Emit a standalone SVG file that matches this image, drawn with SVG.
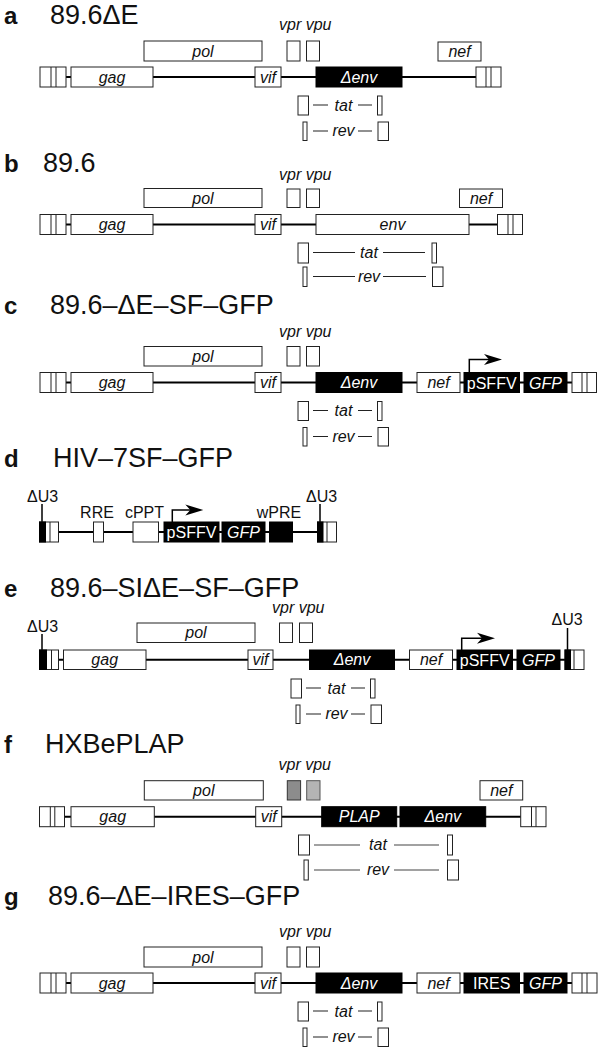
<svg xmlns="http://www.w3.org/2000/svg" width="600" height="1049" viewBox="0 0 600 1049">
<defs>
<style>
text{font-family:"Liberation Sans",Arial,Helvetica,sans-serif;fill:#111}
.t{font-size:27px}
.L{font-size:24px;font-weight:bold}
.g{font-size:16px;font-style:italic;text-anchor:middle}
.v{font-size:16px;font-style:italic}
.r{font-size:16px;text-anchor:middle}
.u{font-size:16px}
text.w{fill:#fff}
.bx{fill:#fff;stroke:#222;stroke-width:1}
.bk{fill:#000;stroke:#000;stroke-width:1}
.bb{stroke:#000;stroke-width:2;fill:none}
.d{stroke:#222;stroke-width:1.2;fill:none}
.dg{stroke:#444;stroke-width:1.2;fill:none}
.ln{stroke:#222;stroke-width:1;fill:none}
.pr{stroke:#000;stroke-width:1.5;fill:none}
</style>
<path id="ah" d="M0,0 L-18,-5.5 L-13,0 L-18,5.5 Z" fill="#000"/>
</defs>
<rect width="600" height="1049" fill="#fff"/>

<g id="connectors">
<path class="bb" d="M66,77 H476"/>
<path class="bb" d="M66,224.5 H497"/>
<path class="bb" d="M66,382.5 H572"/>
<path class="bb" d="M58,532 H317"/>
<path class="bb" d="M58,659.8 H565"/>
<path class="bb" d="M65,816.8 H521"/>
<path class="bb" d="M66,983 H572"/>
<path class="pr" d="M469.3,372.5 V359.5 H492"/>
<use href="#ah" x="502" y="359.5"/>
<path class="pr" d="M172.3,522 V510 H194"/>
<use href="#ah" x="203.3" y="510"/>
<path class="pr" d="M461.7,650 V638.3 H485"/>
<use href="#ah" x="495" y="638.3"/>
<path class="pr" d="M42,504 V522 M320,504 V522 M42,634 V650 M567.5,628 V650"/>
<path class="d" d="M313,105 H328 M358,105 H372 M313,131 H328 M358,131 H372"/>
<path class="d" d="M313,252.5 H355 M383,252.5 H425 M313,276.5 H355 M383,276.5 H426"/>
<path class="d" transform="translate(0,305.5)" d="M313,105 H328 M358,105 H372 M313,131 H328 M358,131 H372"/>
<path class="d" transform="translate(-7,583)" d="M313,105 H328 M358,105 H372 M313,131 H328 M358,131 H372"/>
<path class="dg" d="M314,845 H360 M394,845 H439 M314,870 H360 M394,870 H439"/>
<path class="d" transform="translate(0,906)" d="M313,105 H328 M358,105 H372 M313,131 H328 M358,131 H372"/>
</g>

<!-- Panel a -->
<g id="panel-a">
<text class="L" x="4" y="24">a</text>
<text class="t" x="50" y="24">89.6ΔE</text>
<text class="v" x="279" y="30">vpr vpu</text>
<g id="a-ltr5"><rect class="bx" x="40" y="67" width="26" height="20"/><path class="ln" d="M51,67 V87 M56,67 V87"/></g>
<g id="a-gag"><rect class="bx" x="71" y="67" width="82" height="20"/><text class="g" x="112" y="82.5">gag</text></g>
<g id="a-pol"><rect class="bx" x="144" y="41" width="118" height="20"/><text class="g" x="203" y="56.5">pol</text></g>
<g id="a-vif"><rect class="bx" x="255" y="67" width="26" height="20"/><text class="g" x="268" y="82.5">vif</text></g>
<g id="a-vpr"><rect class="bx" x="287" y="41" width="13" height="20"/></g>
<g id="a-vpu"><rect class="bx" x="306.5" y="41" width="13" height="20"/></g>
<g id="a-env"><rect class="bk" x="316" y="67" width="86" height="20"/><text class="g w" x="359" y="82.5">Δenv</text></g>
<g id="a-nef"><rect class="bx" x="438" y="42" width="43" height="19"/><text class="g" x="459.5" y="56.5">nef</text></g>
<g id="a-ltr3"><rect class="bx" x="476" y="67" width="25" height="20"/><path class="ln" d="M486,67 V87 M491,67 V87"/></g>
<g id="a-tat"><rect class="bx" x="298" y="96" width="10.5" height="19"/><rect class="bx" x="377.5" y="96" width="4.5" height="19"/><text class="g" x="343.5" y="110.5">tat</text></g>
<g id="a-rev"><rect class="bx" x="303" y="122" width="4" height="18.5"/><rect class="bx" x="378" y="122" width="10.5" height="18.5"/><text class="g" x="343.5" y="136">rev</text></g>
</g>

<!-- Panel b -->
<g id="panel-b">
<text class="L" x="4" y="171.5">b</text>
<text class="t" x="43" y="171.5">89.6</text>
<text class="v" x="279" y="180">vpr vpu</text>
<g id="b-ltr5"><rect class="bx" x="40" y="214.5" width="26" height="20"/><path class="ln" d="M51,214.5 V234.5 M56,214.5 V234.5"/></g>
<g id="b-gag"><rect class="bx" x="71" y="214.5" width="82" height="20"/><text class="g" x="112" y="230">gag</text></g>
<g id="b-pol"><rect class="bx" x="144" y="188.5" width="118" height="19"/><text class="g" x="203" y="203.5">pol</text></g>
<g id="b-vif"><rect class="bx" x="255" y="214.5" width="26" height="20"/><text class="g" x="268" y="230">vif</text></g>
<g id="b-vpr"><rect class="bx" x="287" y="189" width="13" height="18.5"/></g>
<g id="b-vpu"><rect class="bx" x="306.5" y="189" width="13" height="18.5"/></g>
<g id="b-env"><rect class="bx" x="316" y="214.5" width="153" height="20"/><text class="g" x="392.5" y="230">env</text></g>
<g id="b-nef"><rect class="bx" x="459.5" y="189" width="43" height="18.5"/><text class="g" x="481" y="203.5">nef</text></g>
<g id="b-ltr3"><rect class="bx" x="497.5" y="214.5" width="25" height="20"/><path class="ln" d="M508,214.5 V234.5 M513,214.5 V234.5"/></g>
<g id="b-tat"><rect class="bx" x="298" y="243" width="10.5" height="20"/><rect class="bx" x="432" y="243" width="4.5" height="20"/><text class="g" x="369" y="258">tat</text></g>
<g id="b-rev"><rect class="bx" x="303" y="267" width="4" height="19.5"/><rect class="bx" x="432.5" y="267" width="10.5" height="19.5"/><text class="g" x="369" y="282">rev</text></g>
</g>

<!-- Panel c -->
<g id="panel-c">
<text class="L" x="4" y="314">c</text>
<text class="t" x="50" y="314">89.6–ΔE–SF–GFP</text>
<text class="v" x="279" y="336.5">vpr vpu</text>
<g id="c-ltr5"><rect class="bx" x="40" y="372.5" width="26" height="20"/><path class="ln" d="M51,372.5 V392.5 M56,372.5 V392.5"/></g>
<g id="c-gag"><rect class="bx" x="71" y="372.5" width="82" height="20"/><text class="g" x="112" y="388">gag</text></g>
<g id="c-pol"><rect class="bx" x="144" y="346.5" width="118" height="19.5"/><text class="g" x="203" y="362">pol</text></g>
<g id="c-vif"><rect class="bx" x="255" y="372.5" width="26" height="20"/><text class="g" x="268" y="388">vif</text></g>
<g id="c-vpr"><rect class="bx" x="287" y="346.5" width="13" height="19.5"/></g>
<g id="c-vpu"><rect class="bx" x="306.5" y="346.5" width="13" height="19.5"/></g>
<g id="c-env"><rect class="bk" x="316" y="372.5" width="86" height="20"/><text class="g w" x="359" y="388">Δenv</text></g>
<g id="c-nef"><rect class="bx" x="417" y="372.5" width="43" height="20"/><text class="g" x="438.5" y="388">nef</text></g>
<g id="c-psffv"><rect class="bk" x="464" y="372.5" width="55.5" height="20"/><text class="r w" x="491.7" y="388.5">pSFFV</text></g>
<g id="c-gfp"><rect class="bk" x="524" y="372.5" width="43" height="20"/><text class="g w" x="545.5" y="388.5">GFP</text></g>
<g id="c-ltr3"><rect class="bx" x="572" y="372.5" width="24.5" height="20"/><path class="ln" d="M582,372.5 V392.5 M587,372.5 V392.5"/></g>
<g id="c-tat" transform="translate(0,305.5)"><rect class="bx" x="298" y="96" width="10.5" height="19"/><rect class="bx" x="377.5" y="96" width="4.5" height="19"/><text class="g" x="343.5" y="110.5">tat</text></g>
<g id="c-rev" transform="translate(0,305.5)"><rect class="bx" x="303" y="122" width="4" height="18.5"/><rect class="bx" x="378" y="122" width="10.5" height="18.5"/><text class="g" x="343.5" y="136">rev</text></g>
</g>

<!-- Panel d -->
<g id="panel-d">
<text class="L" x="4" y="466.5">d</text>
<text class="t" x="53" y="466.5">HIV–7SF–GFP</text>
<text class="u" x="27" y="501.5">ΔU3</text>
<text class="u" x="306" y="501.5">ΔU3</text>
<g id="d-ltr5"><rect class="bx" x="39.5" y="522" width="19" height="20"/><rect class="bk" x="39.5" y="522" width="6" height="20"/><path class="ln" d="M50,522 V542"/></g>
<g id="d-rre"><rect class="bx" x="93.5" y="522" width="10" height="20"/><text class="r" x="97" y="517.5">RRE</text></g>
<g id="d-cppt"><rect class="bx" x="133" y="522" width="25.5" height="20"/><text class="r" x="144.5" y="517.5">cPPT</text></g>
<g id="d-psffv"><rect class="bk" x="164" y="522" width="55" height="20"/><text class="r w" x="191.5" y="538">pSFFV</text></g>
<g id="d-gfp"><rect class="bk" x="222" y="522" width="43" height="20"/><text class="g w" x="243.5" y="538">GFP</text></g>
<g id="d-wpre"><rect class="bk" x="269.5" y="522" width="23" height="20"/><text class="r" x="279" y="518">wPRE</text></g>
<g id="d-ltr3"><rect class="bx" x="317.5" y="522" width="19" height="20"/><rect class="bk" x="317.5" y="522" width="5.5" height="20"/><path class="ln" d="M327,522 V542"/></g>
</g>

<!-- Panel e -->
<g id="panel-e">
<text class="L" x="4" y="597">e</text>
<text class="t" x="50" y="597">89.6–SIΔE–SF–GFP</text>
<text class="v" x="272" y="612.5">vpr vpu</text>
<text class="u" x="27" y="631.5">ΔU3</text>
<text class="u" x="551.5" y="625">ΔU3</text>
<g id="e-ltr5"><rect class="bx" x="39.5" y="650" width="19" height="19.5"/><rect class="bk" x="39.5" y="650" width="7" height="19.5"/><path class="ln" d="M51.5,650 V669.5"/></g>
<g id="e-gag"><rect class="bx" x="63.5" y="650" width="82.5" height="19.5"/><text class="g" x="104.7" y="665.3">gag</text></g>
<g id="e-pol"><rect class="bx" x="137" y="623" width="118" height="19.5"/><text class="g" x="196" y="638.3">pol</text></g>
<g id="e-vif"><rect class="bx" x="248" y="650" width="25" height="19.5"/><text class="g" x="260.5" y="665.3">vif</text></g>
<g id="e-vpr"><rect class="bx" x="279.5" y="623" width="13" height="19.5"/></g>
<g id="e-vpu"><rect class="bx" x="299.5" y="623" width="13" height="19.5"/></g>
<g id="e-env"><rect class="bk" x="309.5" y="650" width="85" height="19.5"/><text class="g w" x="352" y="665.3">Δenv</text></g>
<g id="e-nef"><rect class="bx" x="409.5" y="650" width="43" height="19.5"/><text class="g" x="431" y="665.3">nef</text></g>
<g id="e-psffv"><rect class="bk" x="457" y="650" width="55.5" height="19.5"/><text class="r w" x="484.7" y="665.8">pSFFV</text></g>
<g id="e-gfp"><rect class="bk" x="517" y="650" width="43" height="19.5"/><text class="g w" x="538.5" y="665.8">GFP</text></g>
<g id="e-ltr3"><rect class="bx" x="565" y="650" width="19" height="19.5"/><rect class="bk" x="565" y="650" width="5.5" height="19.5"/><path class="ln" d="M574,650 V669.5"/></g>
<g id="e-tat" transform="translate(-7,583)"><rect class="bx" x="298" y="96" width="10.5" height="19"/><rect class="bx" x="377.5" y="96" width="4.5" height="19"/><text class="g" x="343.5" y="110.5">tat</text></g>
<g id="e-rev" transform="translate(-7,583)"><rect class="bx" x="303" y="122" width="4" height="18.5"/><rect class="bx" x="378" y="122" width="10.5" height="18.5"/><text class="g" x="343.5" y="136">rev</text></g>
</g>

<!-- Panel f -->
<g id="panel-f">
<text class="L" x="4" y="753.3">f</text>
<text class="t" x="45" y="753.3">HXBePLAP</text>
<text class="v" x="278.5" y="770">vpr vpu</text>
<g id="f-ltr5"><rect class="bx" x="39.5" y="806.7" width="25" height="20"/><path class="ln" d="M50.3,806.7 V826.7 M54.8,806.7 V826.7"/></g>
<g id="f-gag"><rect class="bx" x="71" y="806.7" width="83.3" height="20"/><text class="g" x="112.7" y="822.2">gag</text></g>
<g id="f-pol"><rect class="bx" x="144.3" y="780.7" width="119" height="19.3"/><text class="g" x="203.8" y="795.8">pol</text></g>
<g id="f-vif"><rect class="bx" x="255.7" y="806.7" width="26" height="20"/><text class="g" x="268.7" y="822.2">vif</text></g>
<g id="f-vpr"><rect x="287.3" y="780.7" width="13.3" height="19.3" fill="#8c8c8c" stroke="#333" stroke-width="1"/></g>
<g id="f-vpu"><rect x="306.7" y="780.7" width="13.3" height="19.3" fill="#b4b4b4" stroke="#555" stroke-width="1"/></g>
<g id="f-plap"><rect class="bk" x="321.7" y="806.7" width="75" height="20"/><text class="g w" x="359.2" y="822.2">PLAP</text></g>
<g id="f-env"><rect class="bk" x="400" y="806.7" width="85.7" height="20"/><text class="g w" x="442.8" y="822.2">Δenv</text></g>
<g id="f-nef"><rect class="bx" x="480" y="780.7" width="42.7" height="19.3"/><text class="g" x="501.3" y="795.8">nef</text></g>
<g id="f-ltr3"><rect class="bx" x="520.7" y="806.7" width="25.3" height="20"/><path class="ln" d="M531.5,806.7 V826.7 M536,806.7 V826.7"/></g>
<g id="f-tat"><rect class="bx" x="298.5" y="835" width="11" height="20"/><rect class="bx" x="447.5" y="835" width="5" height="20"/><text class="g" x="378" y="850">tat</text></g>
<g id="f-rev"><rect class="bx" x="304" y="860" width="4.3" height="20"/><rect class="bx" x="447.5" y="860" width="11" height="20"/><text class="g" x="378" y="875">rev</text></g>
</g>

<!-- Panel g -->
<g id="panel-g">
<text class="L" x="4" y="905">g</text>
<text class="t" x="48" y="905">89.6–ΔE–IRES–GFP</text>
<text class="v" x="279" y="937">vpr vpu</text>
<g id="g-ltr5"><rect class="bx" x="40" y="973" width="26" height="20"/><path class="ln" d="M51,973 V993 M56,973 V993"/></g>
<g id="g-gag"><rect class="bx" x="71" y="973" width="82" height="20"/><text class="g" x="112" y="988.5">gag</text></g>
<g id="g-pol"><rect class="bx" x="144" y="947" width="118" height="20"/><text class="g" x="203" y="962.5">pol</text></g>
<g id="g-vif"><rect class="bx" x="255" y="973" width="26" height="20"/><text class="g" x="268" y="988.5">vif</text></g>
<g id="g-vpr"><rect class="bx" x="287" y="947" width="13" height="20"/></g>
<g id="g-vpu"><rect class="bx" x="306.5" y="947" width="13" height="20"/></g>
<g id="g-env"><rect class="bk" x="316" y="973" width="86" height="20"/><text class="g w" x="359" y="988.5">Δenv</text></g>
<g id="g-nef"><rect class="bx" x="417" y="973" width="43" height="20"/><text class="g" x="438.5" y="988.5">nef</text></g>
<g id="g-ires"><rect class="bk" x="464" y="973" width="55.5" height="20"/><text class="r w" x="491.7" y="989">IRES</text></g>
<g id="g-gfp"><rect class="bk" x="524" y="973" width="43" height="20"/><text class="g w" x="545.5" y="989">GFP</text></g>
<g id="g-ltr3"><rect class="bx" x="572" y="973" width="25" height="20"/><path class="ln" d="M582,973 V993 M587,973 V993"/></g>
<g id="g-tat" transform="translate(0,906)"><rect class="bx" x="298" y="96" width="10.5" height="19"/><rect class="bx" x="377.5" y="96" width="4.5" height="19"/><text class="g" x="343.5" y="110.5">tat</text></g>
<g id="g-rev" transform="translate(0,906)"><rect class="bx" x="303" y="122" width="4" height="18.5"/><rect class="bx" x="378" y="122" width="10.5" height="18.5"/><text class="g" x="343.5" y="136">rev</text></g>
</g>
</svg>
